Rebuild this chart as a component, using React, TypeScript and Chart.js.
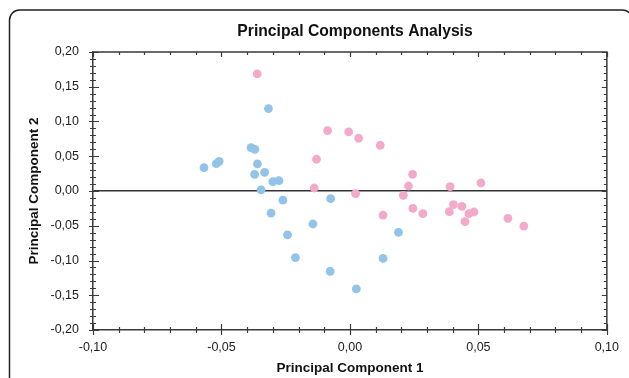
import React, { useEffect, useRef } from "react";
import { Chart, registerables } from "chart.js";

Chart.register(...registerables);

const chartTitle = "Principal Components Analysis";
const xAxisTitle = "Principal Component 1";
const yAxisTitle = "Principal Component 2";

const blueX = [-0.0317, -0.0385, -0.037, -0.0568, -0.052, -0.0509, -0.036, -0.0371, -0.0332, -0.03, -0.0276, -0.0346, -0.0261, -0.0075, -0.0307, -0.0144, -0.0243, -0.0212, -0.0077, 0.0025, 0.0129, 0.0189];
const blueY = [0.1186, 0.0624, 0.06, 0.0336, 0.0394, 0.0427, 0.0389, 0.024, 0.0269, 0.0134, 0.0149, 0.0017, -0.0132, -0.011, -0.0317, -0.0475, -0.0631, -0.0958, -0.1155, -0.1409, -0.097, -0.0595];

const pinkX = [-0.0361, -0.0087, -0.0005, 0.0034, 0.0118, -0.013, -0.0139, 0.0022, 0.0244, 0.0228, 0.0208, 0.039, 0.051, 0.0129, 0.0245, 0.0284, 0.0403, 0.0436, 0.0387, 0.0463, 0.0483, 0.0448, 0.0615, 0.0677];
const pinkY = [0.1686, 0.087, 0.085, 0.0759, 0.0658, 0.0457, 0.0043, -0.0037, 0.024, 0.0072, -0.0062, 0.0063, 0.0115, -0.0346, -0.0249, -0.0326, -0.0196, -0.022, -0.0297, -0.0326, -0.0302, -0.0441, -0.0393, -0.0504];

const FONT = "'Liberation Sans', Arial, sans-serif";

const fmt = (v: number) => {
  const n = Math.abs(v) < 1e-9 ? 0 : v;
  return n.toFixed(2).replace(".", ",");
};

const framePlugin = {
  id: "frame",
  beforeDraw(chart: any) {
    const ctx = chart.ctx;
    ctx.save();
    ctx.strokeStyle = "#222";
    ctx.lineWidth = 1.5;
    ctx.beginPath();
    ctx.roundRect(9.5, 10, 623, 420, 10);
    ctx.stroke();
    ctx.restore();
  },
  afterDraw(chart: any) {
    const { ctx, chartArea, scales } = chart;
    const { left, right, top, bottom } = chartArea;
    const x = scales.x;
    const y = scales.y;
    ctx.save();
    ctx.strokeStyle = "#3a3a3a";
    ctx.lineWidth = 1.5;
    ctx.beginPath();
    ctx.moveTo(left, top);
    ctx.lineTo(right, top);
    ctx.lineTo(right, bottom);
    ctx.stroke();
    ctx.lineWidth = 1.2;
    ctx.beginPath();
    for (let i = -10; i <= 10; i++) {
      const px = Math.round(x.getPixelForValue(i / 100)) + 0.5;
      const major = i % 5 === 0;
      ctx.moveTo(px, bottom - (major ? 6 : 3));
      ctx.lineTo(px, bottom + (major ? 5 : 3));
      ctx.moveTo(px, top);
      ctx.lineTo(px, top + (major ? 5 : 3));
    }
    for (let i = -20; i <= 20; i++) {
      const py = Math.round(y.getPixelForValue(i / 100)) + 0.5;
      const major = i % 5 === 0;
      ctx.moveTo(left - (major ? 4 : 3), py);
      ctx.lineTo(left + (major ? 6 : 3), py);
      ctx.moveTo(right, py);
      ctx.lineTo(right - (major ? 5 : 3), py);
    }
    ctx.stroke();
    ctx.fillStyle = "#111";
    ctx.font = `bold 15.7px ${FONT}`;
    ctx.textAlign = "center";
    ctx.textBaseline = "middle";
    ctx.fillText(chartTitle, 355, 32);
    ctx.restore();
  },
};

export default function App() {
  const ref = useRef<HTMLCanvasElement | null>(null);

  useEffect(() => {
    if (!ref.current) return;
    const blue = blueX.map((v, i) => ({ x: v, y: blueY[i] }));
    const pink = pinkX.map((v, i) => ({ x: v, y: pinkY[i] }));
    const chart = new Chart(ref.current, {
      type: "scatter",
      data: {
        datasets: [
          {
            label: "Group A",
            data: blue,
            backgroundColor: "rgb(146,196,234)",
            borderWidth: 0,
            pointRadius: 4.4,
          },
          {
            label: "Group B",
            data: pink,
            backgroundColor: "rgb(243,170,202)",
            borderWidth: 0,
            pointRadius: 4.4,
          },
        ],
      },
      options: {
        responsive: false,
        animation: false,
        devicePixelRatio: 1,
        layout: { padding: { left: 0, right: 21, top: 52, bottom: 0 } },
        plugins: {
          legend: { display: false },
          tooltip: { enabled: false },
          title: { display: false },
        },
        scales: {
          x: {
            type: "linear",
            min: -0.1,
            max: 0.1,
            ticks: {
              stepSize: 0.05,
              callback: (v: any) => fmt(Number(v)),
              padding: 10,
              color: "#222",
              font: { family: FONT, size: 12.5 },
            },
            grid: { display: false, drawTicks: false },
            border: { display: true, color: "#3a3a3a", width: 1.5 },
            title: {
              display: true,
              text: xAxisTitle,
              color: "#111",
              font: { family: FONT, size: 13.5, weight: "bold" },
              padding: { top: 0, bottom: 2 },
            },
            afterFit: (s: any) => {
              s.height = 48;
            },
          },
          y: {
            type: "linear",
            min: -0.2,
            max: 0.2,
            ticks: {
              stepSize: 0.05,
              callback: (v: any) => fmt(Number(v)),
              padding: 14,
              color: "#222",
              font: { family: FONT, size: 12.5 },
            },
            grid: {
              display: true,
              drawTicks: false,
              drawOnChartArea: true,
              color: (c: any) =>
                c.tick && Math.abs(c.tick.value) < 1e-9 ? "#333" : "rgba(0,0,0,0)",
              lineWidth: 1.5,
            },
            border: { display: true, color: "#3a3a3a", width: 1.5 },
            title: {
              display: true,
              text: yAxisTitle,
              color: "#111",
              font: { family: FONT, size: 13.5, weight: "bold" },
              padding: { top: 26, bottom: 0 },
            },
            afterFit: (s: any) => {
              s.width = 93;
            },
          },
        },
      },
      plugins: [framePlugin],
    } as any);
    return () => chart.destroy();
  }, []);

  return (
    <div style={{ position: "fixed", left: 0, top: 0, width: 629, height: 378, background: "#fff" }}>
      <canvas ref={ref} width={629} height={378} style={{ display: "block" }} />
    </div>
  );
}
